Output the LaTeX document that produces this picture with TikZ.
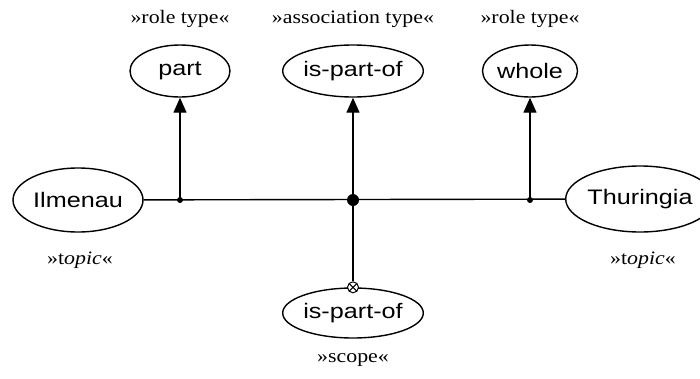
\documentclass[tikz,border=0pt]{standalone}
\usepackage{fontspec}
\setmainfont{Liberation Serif}[FakeStretch=1.15]
\newfontfamily\nodefont{Liberation Sans}[FakeStretch=1.2]
\usetikzlibrary{shapes.geometric,arrows.meta}

\begin{document}
\begin{tikzpicture}[x=1pt,y=-1pt,
	item/.style = { draw, ellipse, line width=1.4pt, inner sep=0pt,
		font=\nodefont\fontsize{21}{21}\selectfont },
	stereo/.style = { font=\fontsize{19}{19}\selectfont },
	link/.style = { line width=1.4pt },
	typeof/.style = { link, -{Triangle[length=15pt,width=13pt]} },
	xcirc/.style = { draw, circle, line width=1pt, inner sep=0pt,
		minimum size=11pt, fill=white,
		path picture={\draw[line width=1pt]
			(path picture bounding box.north west) -- (path picture bounding box.south east)
			(path picture bounding box.north east) -- (path picture bounding box.south west);} }]

  \useasboundingbox (0,0) rectangle (700,378);

  % topics
  \node[item, minimum width=130pt, minimum height=64pt] (ilmenau) at (78,200) {Ilmenau};
  \node[item, minimum width=124pt, minimum height=66pt] (thuringia) at (640,199) {Thuringia};
  \node[stereo] (topicA) at (80,260) {»t\textit{opic}«};
  \node[stereo] (topicB) at (643,260) {»t\textit{opic}«};

  % types
  \node[item, minimum width=100pt, minimum height=52pt] (part) at (180,71) {part};
  \node[item, minimum width=139pt, minimum height=52pt] (assoc) at (353,71) {is-part-of};
  \node[item, minimum width=95pt, minimum height=52pt] (whole) at (530,71) {whole};
  \node[stereo] (roleA) at (180,19) {»role type«};
  \node[stereo] (assocT) at (353,19) {»association type«};
  \node[stereo] (roleB) at (530,19) {»role type«};

  % scope
  \node[item, minimum width=131pt, minimum height=50pt] (scope) at (353,313) {is-part-of};
  \node[stereo] (scopeT) at (353,360) {»scope«};

  % junctions
  \coordinate (jpart) at (part |- 0,200);
  \coordinate (jmid) at (assoc |- 0,200);
  \coordinate (jwhole) at (whole |- 0,200);

  \draw[link] (ilmenau) -- (thuringia);
  \draw[typeof] (jpart) -- (part);
  \draw[typeof] (jmid) -- (assoc);
  \draw[typeof] (jwhole) -- (whole);
  \node[xcirc] (cross) at (scope.north) {};
  \draw[link] (jmid) -- (cross);

  \fill (jpart) circle[radius=3pt];
  \fill (jwhole) circle[radius=3pt];
  \fill (jmid) circle[radius=6pt];
\end{tikzpicture}
\end{document}
